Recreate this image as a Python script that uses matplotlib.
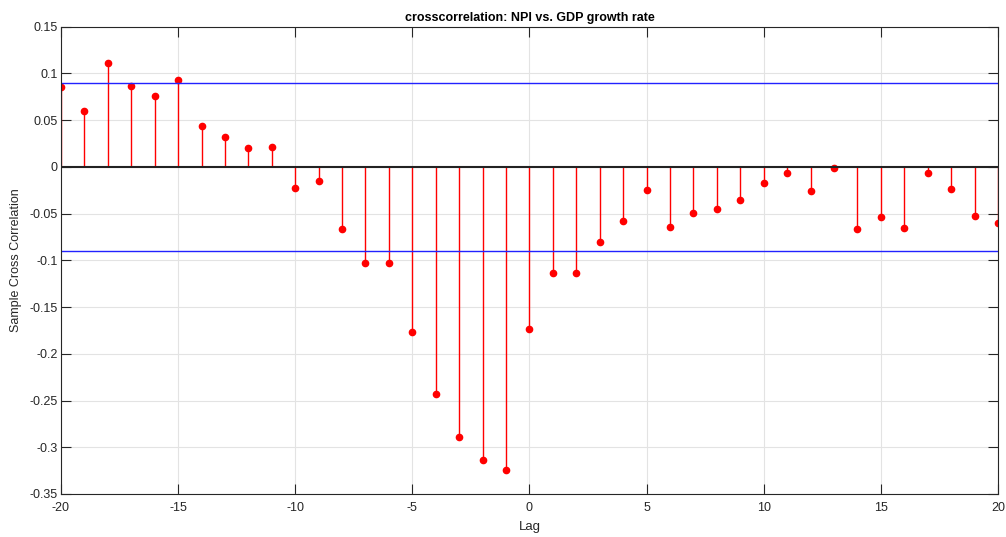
import numpy as np
import matplotlib.pyplot as plt

plt.rcParams['font.family'] = ['Liberation Sans', 'DejaVu Sans']
plt.rcParams['axes.unicode_minus'] = False

lags = list(range(-20, 21))
xcf = [0.085, 0.060, 0.111, 0.0865, 0.0755, 0.093, 0.0436, 0.032, 0.020, 0.0208,
       -0.0228, -0.015, -0.066, -0.103, -0.103, -0.1765, -0.2433, -0.289, -0.3133, -0.3247,
       -0.1733,
       -0.1136, -0.1139, -0.080, -0.0575, -0.0243, -0.0639, -0.0493, -0.045, -0.0357, -0.0168,
       -0.0064, -0.0254, -0.0007, -0.066, -0.0532, -0.065, -0.0068, -0.0239, -0.0525, -0.0604]
bound = 0.0895

fig = plt.figure(figsize=(10.06, 5.37), dpi=100)
ax = fig.add_axes([0.0606, 0.0801, 0.9314, 0.8702])

ax.grid(True, color='#e3e3e3', linewidth=0.8)
ax.set_axisbelow(True)

ml, sl, bl = ax.stem(lags, xcf, linefmt='r-', markerfmt='ro', basefmt='k-')
plt.setp(sl, linewidth=1.0)
plt.setp(ml, markersize=4.5)
plt.setp(bl, linewidth=1.5, color='#222222')
ax.axhline(bound, color='#2222ff', linewidth=1.0)
ax.axhline(-bound, color='#2222ff', linewidth=1.0)

ax.set_xlim(-20, 20)
ax.set_ylim(-0.35, 0.15)
ax.set_xticks(np.arange(-20, 21, 5))
ax.set_yticks(np.arange(-0.35, 0.151, 0.05))
ax.set_yticklabels(['-0.35', '-0.3', '-0.25', '-0.2', '-0.15', '-0.1', '-0.05', '0', '0.05', '0.1', '0.15'])
ax.tick_params(direction='in', top=True, right=True, labelsize=9, colors='#262626', length=7)
ax.tick_params(axis='x', pad=6)
ax.tick_params(axis='y', pad=2.5)
for s in ax.spines.values():
    s.set_color('#262626')
    s.set_linewidth(0.8)

ax.set_title('crosscorrelation: NPI vs. GDP growth rate', fontsize=9, fontweight='bold', pad=4)
ax.set_xlabel('Lag', fontsize=9.5, color='#262626', labelpad=5)
ax.set_ylabel('Sample Cross Correlation', fontsize=9, color='#262626', labelpad=5)

fig.savefig('out.png', dpi=100)
